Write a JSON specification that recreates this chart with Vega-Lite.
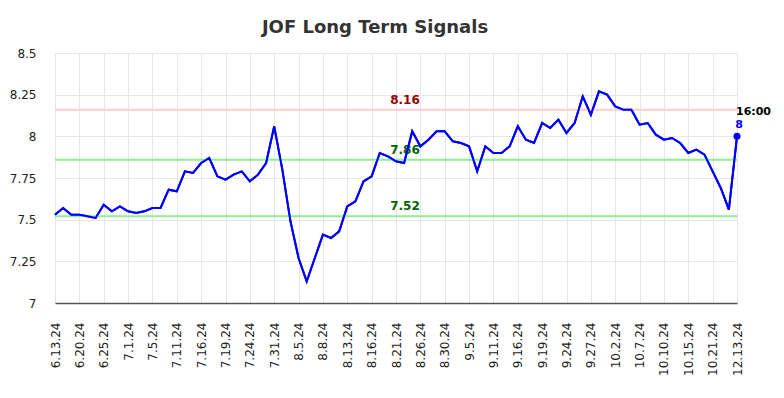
{
  "$schema": "https://vega.github.io/schema/vega-lite/v6.json",
  "width": 682,
  "height": 250,
  "autosize": {"type": "none"},
  "padding": {"left": 55, "top": 53, "right": 47, "bottom": 95},
  "background": "white",
  "config": {"font": "DejaVu Sans", "view": {"stroke": null}},
  "title": {"text": "JOF Long Term Signals", "fontSize": 18, "fontWeight": "bold", "color": "#333333", "anchor": "middle", "dx": -21, "offset": 10},
  "datasets": {
    "prices": [
      {"i": 0, "v": 7.53}, {"i": 1, "v": 7.57}, {"i": 2, "v": 7.53}, {"i": 3, "v": 7.53}, {"i": 4, "v": 7.52},
      {"i": 5, "v": 7.51}, {"i": 6, "v": 7.59}, {"i": 7, "v": 7.55}, {"i": 8, "v": 7.58}, {"i": 9, "v": 7.55},
      {"i": 10, "v": 7.54}, {"i": 11, "v": 7.55}, {"i": 12, "v": 7.57}, {"i": 13, "v": 7.57}, {"i": 14, "v": 7.68},
      {"i": 15, "v": 7.67}, {"i": 16, "v": 7.79}, {"i": 17, "v": 7.78}, {"i": 18, "v": 7.84}, {"i": 19, "v": 7.87},
      {"i": 20, "v": 7.76}, {"i": 21, "v": 7.74}, {"i": 22, "v": 7.77}, {"i": 23, "v": 7.79}, {"i": 24, "v": 7.73},
      {"i": 25, "v": 7.77}, {"i": 26, "v": 7.84}, {"i": 27, "v": 8.06}, {"i": 28, "v": 7.80}, {"i": 29, "v": 7.49},
      {"i": 30, "v": 7.27}, {"i": 31, "v": 7.13}, {"i": 32, "v": 7.27}, {"i": 33, "v": 7.41}, {"i": 34, "v": 7.39},
      {"i": 35, "v": 7.43}, {"i": 36, "v": 7.58}, {"i": 37, "v": 7.61}, {"i": 38, "v": 7.73}, {"i": 39, "v": 7.76},
      {"i": 40, "v": 7.90}, {"i": 41, "v": 7.88}, {"i": 42, "v": 7.85}, {"i": 43, "v": 7.84}, {"i": 44, "v": 8.03},
      {"i": 45, "v": 7.94}, {"i": 46, "v": 7.98}, {"i": 47, "v": 8.03}, {"i": 48, "v": 8.03}, {"i": 49, "v": 7.97},
      {"i": 50, "v": 7.96}, {"i": 51, "v": 7.94}, {"i": 52, "v": 7.79}, {"i": 53, "v": 7.94}, {"i": 54, "v": 7.90},
      {"i": 55, "v": 7.90}, {"i": 56, "v": 7.94}, {"i": 57, "v": 8.06}, {"i": 58, "v": 7.98}, {"i": 59, "v": 7.96},
      {"i": 60, "v": 8.08}, {"i": 61, "v": 8.05}, {"i": 62, "v": 8.10}, {"i": 63, "v": 8.02}, {"i": 64, "v": 8.08},
      {"i": 65, "v": 8.24}, {"i": 66, "v": 8.13}, {"i": 67, "v": 8.27}, {"i": 68, "v": 8.25}, {"i": 69, "v": 8.18},
      {"i": 70, "v": 8.16}, {"i": 71, "v": 8.16}, {"i": 72, "v": 8.07}, {"i": 73, "v": 8.08}, {"i": 74, "v": 8.01},
      {"i": 75, "v": 7.98}, {"i": 76, "v": 7.99}, {"i": 77, "v": 7.96}, {"i": 78, "v": 7.90}, {"i": 79, "v": 7.92},
      {"i": 80, "v": 7.89}, {"i": 81, "v": 7.79}, {"i": 82, "v": 7.69}, {"i": 83, "v": 7.56}, {"i": 84, "v": 8.00}
    ],
    "signals": [
      {"v": 8.16, "label": "8.16", "kind": "high"},
      {"v": 7.86, "label": "7.86", "kind": "low"},
      {"v": 7.52, "label": "7.52", "kind": "low"}
    ]
  },
  "layer": [
    {
      "data": {"name": "prices"},
      "mark": {"type": "line", "color": "#0000ff", "strokeWidth": 2},
      "encoding": {
        "x": {"field": "i", "type": "quantitative",
          "scale": {"domain": [0, 84], "nice": false, "zero": false},
          "axis": {"title": null, "values": [0,3,6,9,12,15,18,21,24,27,30,33,36,39,42,45,48,51,54,57,60,63,66,69,72,75,78,81,84],
            "tickCount": 40,
            "labelExpr": "['6.13.24','6.20.24','6.25.24','7.1.24','7.5.24','7.11.24','7.16.24','7.19.24','7.24.24','7.31.24','8.5.24','8.8.24','8.13.24','8.16.24','8.21.24','8.26.24','8.30.24','9.5.24','9.11.24','9.16.24','9.19.24','9.24.24','9.27.24','10.2.24','10.7.24','10.10.24','10.15.24','10.21.24','12.13.24'][round(datum.value/3)]",
            "labelAngle": -90, "labelFontSize": 12, "labelColor": "#222222", "labelPadding": 19,
            "ticks": false, "grid": true, "gridColor": "#e6e6e6", "gridWidth": 1,
            "domain": true, "domainColor": "#555555", "domainWidth": 1.5, "labelOverlap": false, "labelFlush": false}},
        "y": {"field": "v", "type": "quantitative",
          "scale": {"domain": [7, 8.5], "nice": false, "zero": false},
          "axis": {"title": null, "values": [7, 7.25, 7.5, 7.75, 8, 8.25, 8.5], "tickCount": 10, "format": ".2~f",
            "labelFontSize": 12, "labelColor": "#222222", "labelPadding": 19,
            "ticks": false, "domain": false, "grid": true, "gridColor": "#e6e6e6", "gridWidth": 1}}
      }
    },
    {
      "data": {"name": "signals"},
      "mark": {"type": "rule", "strokeWidth": 2},
      "encoding": {
        "y": {"field": "v", "type": "quantitative"},
        "color": {"condition": {"test": "datum.kind == 'high'", "value": "#ffcccc"}, "value": "#90ee90"}
      }
    },
    {
      "data": {"name": "signals"},
      "mark": {"type": "text", "fontSize": 12, "fontWeight": "bold", "baseline": "bottom", "align": "center", "dy": -3},
      "encoding": {
        "x": {"datum": 43.1},
        "y": {"field": "v", "type": "quantitative"},
        "text": {"field": "label"},
        "color": {"condition": {"test": "datum.kind == 'high'", "value": "#990000"}, "value": "#006400"}
      }
    },
    {
      "data": {"name": "prices"},
      "mark": {"type": "line", "color": "#0000ff", "strokeWidth": 2},
      "encoding": {
        "x": {"field": "i", "type": "quantitative"},
        "y": {"field": "v", "type": "quantitative"}
      }
    },
    {
      "mark": {"type": "rule", "color": "#999999", "strokeWidth": 2},
      "encoding": {"x": {"datum": 84}}
    },
    {
      "data": {"name": "prices"},
      "transform": [{"filter": "datum.i == 84"}],
      "layer": [
        {
          "mark": {"type": "point", "filled": true, "size": 50, "color": "#0000ff", "opacity": 1},
          "encoding": {"x": {"field": "i", "type": "quantitative"}, "y": {"field": "v", "type": "quantitative"}}
        },
        {
          "mark": {"type": "text", "fontSize": 11, "fontWeight": "bold", "color": "#0000ff", "align": "center", "baseline": "middle", "dx": 2, "dy": -11},
          "encoding": {"x": {"field": "i", "type": "quantitative"}, "y": {"field": "v", "type": "quantitative"}, "text": {"value": "8"}}
        },
        {
          "mark": {"type": "text", "fontSize": 11, "fontWeight": "bold", "color": "#000000", "align": "left", "baseline": "middle", "dx": -1, "dy": -24},
          "encoding": {"x": {"field": "i", "type": "quantitative"}, "y": {"field": "v", "type": "quantitative"}, "text": {"value": "16:00"}}
        }
      ]
    },
    {
      "mark": {"type": "text", "fontSize": 13, "fontWeight": "bold", "color": "#a0a0a0", "align": "left", "baseline": "middle", "dy": -1},
      "encoding": {"x": {"datum": 1.35}, "y": {"datum": 7}, "text": {"value": "Stock Traders Daily"}}
    }
  ]
}
